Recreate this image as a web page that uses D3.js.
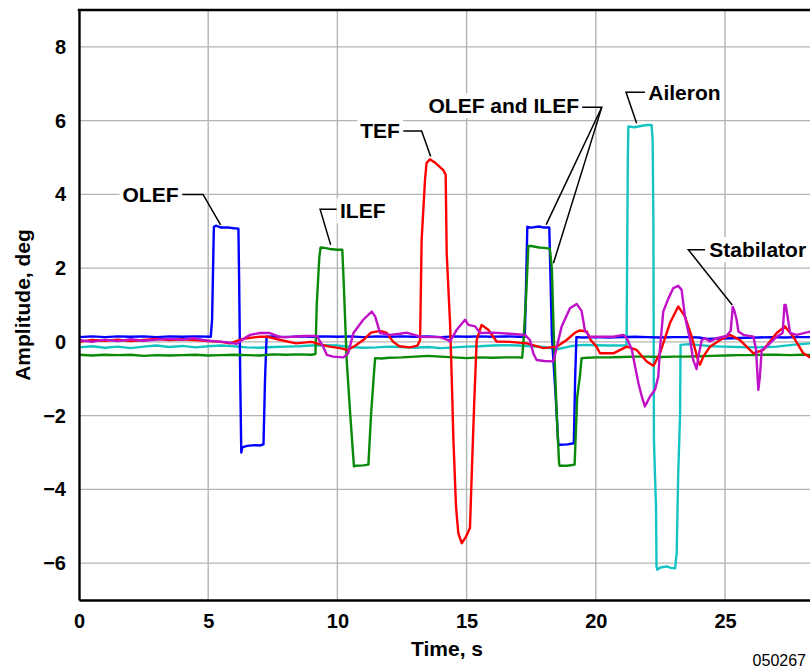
<!DOCTYPE html>
<html>
<head>
<meta charset="utf-8">
<script src="https://cdn.jsdelivr.net/npm/d3@7/dist/d3.min.js"></script>
<style>
  html, body { margin: 0; padding: 0; background: #fff; }
  svg { display: block; }
  text { font-family: "Liberation Sans", Arial, Helvetica, sans-serif; }
</style>
</head>
<body>
<svg id="chart" width="810" height="669"></svg>
<script>
// Surface deflections during the flight test, [time s, amplitude deg]
const olef = [[0,0.13],[0.5,0.15],[1,0.13],[1.5,0.15],[2,0.14],[2.5,0.15],[3,0.13],[3.5,0.15],[4,0.14],[4.5,0.15],[5.1,0.14],[5.15,0.6],[5.22,3.12],[5.3,3.15],[5.5,3.1],[5.8,3.1],[6.0,3.08],[6.17,3.07],[6.2,1.5],[6.24,-1.0],[6.28,-3.0],[6.32,-2.86],[6.5,-2.82],[6.8,-2.8],[7.0,-2.81],[7.14,-2.78],[7.2,-1.0],[7.26,0.14],[7.5,0.15],[8,0.13],[8.5,0.15],[9,0.14],[9.5,0.15],[10,0.14],[10.5,0.15],[11,0.13],[11.5,0.15],[12,0.14],[12.5,0.15],[13,0.14],[13.5,0.15],[14,0.13],[14.5,0.15],[15,0.14],[15.5,0.15],[16,0.14],[16.5,0.15],[17,0.14],[17.25,0.14],[17.3,1.5],[17.35,3.12],[17.5,3.1],[17.8,3.13],[18.0,3.1],[18.2,3.1],[18.3,0.15],[18.45,-1.5],[18.55,-2.8],[18.6,-2.79],[18.9,-2.78],[19.15,-2.75],[19.2,-1.0],[19.25,0.13],[19.5,0.12],[20,0.13],[20.5,0.12],[21,0.13],[21.5,0.14],[22,0.13],[22.5,0.12],[23,0.13],[23.5,0.13],[24,0.12],[24.3,0.08],[24.8,0.09],[25.3,0.1],[25.8,0.11],[26.3,0.12],[26.8,0.13],[27.3,0.12],[27.8,0.13],[28.3,0.13],[28.8,0.12]];

const ilef = [[0,-0.35],[0.5,-0.37],[1,-0.35],[1.5,-0.36],[2,-0.35],[2.5,-0.38],[3,-0.36],[3.5,-0.37],[4,-0.36],[4.5,-0.35],[5,-0.37],[5.5,-0.36],[6,-0.35],[6.5,-0.36],[7,-0.37],[7.5,-0.34],[8,-0.35],[8.5,-0.34],[9,-0.35],[9.15,-0.33],[9.2,1.0],[9.3,2.3],[9.35,2.56],[9.5,2.55],[9.7,2.52],[10,2.5],[10.19,2.5],[10.25,1.5],[10.36,-0.5],[10.5,-2.0],[10.64,-3.38],[10.7,-3.36],[11,-3.35],[11.2,-3.33],[11.3,-2.0],[11.4,-1.0],[11.46,-0.44],[11.7,-0.45],[12,-0.43],[12.5,-0.42],[13,-0.4],[13.5,-0.38],[14,-0.4],[14.5,-0.42],[15,-0.44],[15.5,-0.42],[16,-0.43],[16.5,-0.42],[17,-0.42],[17.15,-0.43],[17.2,0.0],[17.3,1.2],[17.39,2.6],[17.5,2.6],[17.8,2.56],[18.0,2.55],[18.22,2.53],[18.3,2.0],[18.38,0.0],[18.49,-2.0],[18.58,-3.3],[18.6,-3.36],[18.9,-3.36],[19.18,-3.33],[19.28,-1.5],[19.39,-0.9],[19.45,-0.44],[19.7,-0.43],[20,-0.42],[20.5,-0.42],[21,-0.41],[21.5,-0.4],[22,-0.4],[22.5,-0.41],[23,-0.4],[23.5,-0.4],[24,-0.39],[24.5,-0.38],[25,-0.37],[25.5,-0.36],[26,-0.36],[26.5,-0.35],[27,-0.35],[27.5,-0.36],[28,-0.35],[28.8,-0.36]];

const tef = [[0,0.0],[0.5,0.05],[1,0.03],[1.5,0.06],[2,0.02],[2.5,0.05],[3,0.08],[3.5,0.05],[4,0.07],[4.5,0.05],[5,0.02],[5.5,0.0],[5.84,-0.04],[6.2,0.05],[6.5,0.1],[7,0.14],[7.3,0.14],[7.8,0.05],[8.4,-0.04],[9.0,0.0],[9.4,-0.08],[9.7,-0.13],[10.1,-0.17],[10.4,-0.22],[10.7,-0.1],[11.0,0.05],[11.3,0.25],[11.65,0.3],[11.9,0.25],[12.16,0.0],[12.4,-0.12],[12.8,-0.15],[13.1,-0.1],[13.2,0.05],[13.26,2.77],[13.39,4.39],[13.45,4.85],[13.58,4.95],[13.8,4.85],[14.1,4.66],[14.19,4.53],[14.23,2.4],[14.36,0.5],[14.42,-0.85],[14.49,-2.66],[14.59,-4.47],[14.68,-5.19],[14.81,-5.46],[14.98,-5.28],[15.13,-5.05],[15.2,-3.56],[15.29,-1.75],[15.39,0.05],[15.58,0.46],[15.84,0.33],[16.16,0.01],[16.68,0.0],[17.33,-0.04],[17.97,-0.17],[18.49,-0.13],[18.87,0.05],[19.2,0.25],[19.39,0.31],[19.65,0.28],[19.8,0.05],[20.03,-0.13],[20.16,-0.31],[20.68,-0.31],[21.2,-0.13],[21.58,-0.22],[21.97,-0.53],[22.23,-0.65],[22.48,-0.31],[22.87,0.51],[23.19,0.96],[23.45,0.69],[23.71,0.14],[23.97,-0.53],[24.03,-0.62],[24.16,-0.4],[24.42,-0.13],[24.81,0.05],[25.19,0.19],[25.58,0.05],[26.1,-0.31],[26.48,-0.22],[27.0,0.24],[27.32,0.42],[27.64,0.14],[28.03,-0.31],[28.3,-0.42],[28.8,-0.45]];

const aileron = [[0,-0.15],[0.5,-0.12],[1,-0.16],[1.5,-0.13],[2,-0.17],[2.5,-0.13],[3,-0.1],[3.5,-0.14],[4,-0.11],[4.5,-0.15],[5,-0.12],[5.5,-0.1],[6,-0.12],[6.5,-0.15],[7,-0.16],[7.5,-0.14],[8,-0.13],[8.5,-0.12],[9,-0.1],[9.5,-0.09],[10,-0.1],[10.5,-0.14],[11,-0.16],[11.5,-0.15],[12,-0.13],[12.5,-0.14],[13,-0.16],[13.5,-0.14],[14,-0.17],[14.5,-0.15],[15,-0.13],[15.5,-0.12],[16,-0.1],[16.5,-0.09],[17,-0.1],[17.5,-0.12],[18,-0.14],[18.5,-0.2],[19,-0.12],[19.5,-0.08],[20,-0.09],[20.5,-0.1],[21.07,-0.1],[21.19,-0.1],[21.24,5.0],[21.26,5.84],[21.5,5.82],[21.8,5.86],[22.0,5.88],[22.16,5.88],[22.2,5.48],[22.23,3.13],[22.25,-2.66],[22.29,-3.61],[22.33,-4.47],[22.35,-6.09],[22.38,-6.18],[22.5,-6.12],[22.74,-6.09],[22.9,-6.13],[23.07,-6.14],[23.13,-5.73],[23.19,-3.56],[23.26,-2.0],[23.28,-0.08],[23.6,-0.06],[23.9,-0.08],[24.5,-0.12],[24.94,-0.13],[25.5,-0.14],[26.23,-0.15],[27.0,-0.13],[27.6,-0.08],[28.29,-0.04],[28.8,-0.05]];

const stabilator = [[0,0.05],[0.5,0.0],[1,0.06],[1.5,0.02],[2,0.07],[2.5,0.03],[3,0.06],[3.5,0.08],[4,0.06],[4.4,0.1],[4.8,0.05],[5.2,0.02],[5.6,0.0],[6.1,-0.05],[6.4,0.1],[6.62,0.19],[7.0,0.24],[7.39,0.24],[7.78,0.13],[8.29,0.14],[8.7,0.16],[9.2,0.16],[9.45,-0.13],[9.59,-0.35],[9.84,-0.4],[10.23,-0.42],[10.42,-0.31],[10.62,0.24],[11.0,0.6],[11.33,0.82],[11.46,0.69],[11.65,0.24],[12.04,0.19],[12.42,0.22],[12.68,0.25],[13.2,0.14],[13.97,0.13],[14.29,0.05],[14.36,0.01],[14.62,0.33],[14.94,0.6],[15.07,0.46],[15.33,0.42],[15.52,0.24],[16.03,0.25],[16.68,0.22],[17.26,0.19],[17.45,0.05],[17.58,-0.31],[17.71,-0.49],[18.0,-0.52],[18.36,-0.53],[18.49,-0.13],[18.68,0.42],[19.0,0.91],[19.26,1.03],[19.45,0.84],[19.58,0.3],[19.78,0.14],[20.16,0.14],[20.68,0.14],[21.07,0.19],[21.2,0.1],[21.39,-0.2],[21.52,-0.67],[21.65,-1.12],[21.78,-1.48],[21.9,-1.75],[22.1,-1.48],[22.29,-1.3],[22.42,-0.94],[22.48,-0.22],[22.61,0.82],[22.81,1.18],[23.0,1.46],[23.19,1.52],[23.32,1.41],[23.45,0.69],[23.65,0.05],[23.77,-0.49],[23.9,-0.74],[23.97,-0.4],[24.1,0.05],[24.23,0.1],[24.42,0.01],[24.68,0.1],[25.06,0.16],[25.22,0.3],[25.3,0.95],[25.36,0.85],[25.45,0.6],[25.52,0.28],[25.71,0.19],[26.1,0.14],[26.2,-0.2],[26.29,-1.3],[26.35,-0.94],[26.42,-0.22],[26.61,-0.13],[27.0,0.14],[27.23,0.24],[27.3,1.0],[27.35,1.0],[27.42,0.69],[27.52,0.24],[27.77,0.19],[28.29,0.28],[28.8,0.27]];

// Axis ticks
const xTickValues = [0, 5, 10, 15, 20, 25];
const yTickValues = [-6, -4, -2, 0, 2, 4, 6, 8];
const xGridValues = [5, 10, 15, 20, 25];
const yGridValues = [-6, -4, -2, 0, 2, 4, 6, 8];

// Series drawing order and colours
const seriesList = [
  { name: "Aileron", data: aileron, color: "#14c4c4" },
  { name: "OLEF", data: olef, color: "#0000ff" },
  { name: "ILEF", data: ilef, color: "#098a09" },
  { name: "TEF", data: tef, color: "#ff0000" },
  { name: "Stabilator", data: stabilator, color: "#c010c8" }
];

// Callouts: label text, anchor point, which side the text sits on, leader lines (data units)
const callouts = [
  { text: "OLEF", at: [3.85, 4.0], anchor: "end", leaders: [[[4.0, 4.0], [4.8, 4.0], [5.48, 3.17]]] },
  { text: "ILEF", at: [10.1, 3.55], anchor: "start", leaders: [[[9.97, 3.6], [9.33, 3.6], [9.74, 2.63]]] },
  { text: "TEF", at: [12.42, 5.72], anchor: "end", leaders: [[[12.55, 5.72], [13.26, 5.72], [13.61, 5.03]]] },
  { text: "OLEF and ILEF", at: [19.35, 6.4], anchor: "end",
    leaders: [[[19.45, 6.36], [20.23, 6.36], [18.08, 3.18]], [[20.23, 6.36], [18.36, 2.13]]] },
  { text: "Aileron", at: [22.03, 6.75], anchor: "start", leaders: [[[21.9, 6.77], [21.17, 6.77], [21.58, 5.93]]] },
  { text: "Stabilator", at: [24.39, 2.5], anchor: "start", leaders: [[[24.23, 2.5], [23.58, 2.5], [25.28, 1.0]]] }
];

const svg = d3.select("#chart");
const W = 810, H = 669;
const plot = { left: 79, top: 10, bottom: 600 };

const x = d3.scaleLinear().domain([0, 30]).range([plot.left, plot.left + 30 * 25.84]);
const y = d3.scaleLinear().domain([-7, 9]).range([plot.bottom, plot.top]);

svg.append("rect").attr("width", W).attr("height", H).attr("fill", "#fff");

svg.append("defs").append("clipPath").attr("id", "plotClip")
  .append("rect")
  .attr("x", x(0)).attr("y", y(9))
  .attr("width", x(30) - x(0)).attr("height", y(-7) - y(9));

// Grid
const grid = svg.append("g").attr("stroke", "#b4b4b4").attr("stroke-width", 1.4);
grid.selectAll("line.gx").data(xGridValues).join("line")
  .attr("x1", d => x(d)).attr("x2", d => x(d))
  .attr("y1", y(9)).attr("y2", y(-7));
grid.selectAll("line.gy").data(yGridValues).join("line")
  .attr("x1", x(0)).attr("x2", x(30))
  .attr("y1", d => y(d)).attr("y2", d => y(d));

// Data lines
const line = d3.line().x(d => x(d[0])).y(d => y(d[1]));
const lines = svg.append("g").attr("clip-path", "url(#plotClip)");
lines.selectAll("path").data(seriesList).join("path")
  .attr("d", d => line(d.data))
  .attr("fill", "none")
  .attr("stroke", d => d.color)
  .attr("stroke-width", 2.4)
  .attr("stroke-linejoin", "round");

// Callouts
const callG = svg.append("g");
callouts.forEach(c => {
  c.leaders.forEach(pts => {
    callG.append("path")
      .attr("d", d3.line().x(p => x(p[0])).y(p => y(p[1]))(pts))
      .attr("fill", "none").attr("stroke", "#000").attr("stroke-width", 1.5);
  });
  const g = callG.append("g");
  const t = g.append("text")
    .attr("x", x(c.at[0])).attr("y", y(c.at[1]))
    .attr("dy", "0.35em")
    .attr("text-anchor", c.anchor)
    .attr("font-size", 21).attr("font-weight", "bold")
    .text(c.text);
  const bb = t.node().getBBox();
  g.insert("rect", "text")
    .attr("x", bb.x - 3).attr("y", bb.y - 1)
    .attr("width", bb.width + 6).attr("height", bb.height + 2)
    .attr("fill", "#fff");
});

// Axes
const yAxis = d3.axisLeft(y).tickValues(yTickValues).tickSize(0).tickPadding(13).tickFormat(d3.format("d"));
const xAxis = d3.axisBottom(x).tickValues(xTickValues).tickSize(0).tickPadding(14).tickFormat(d3.format("d"));

const gy = svg.append("g").attr("transform", `translate(${x(0)},0)`).call(yAxis);
const gx = svg.append("g").attr("transform", `translate(0,${y(-7)})`).call(xAxis);
[gx, gy].forEach(g => {
  g.select(".domain").attr("stroke", "#000").attr("stroke-width", 2.4);
  g.selectAll("text").attr("font-size", 20).attr("font-weight", "bold")
    .attr("fill", "#000").attr("font-family", "'Liberation Sans', Arial, sans-serif");
});

// Top frame line
svg.append("line")
  .attr("x1", x(0) - 1.2).attr("x2", x(30))
  .attr("y1", y(9)).attr("y2", y(9))
  .attr("stroke", "#000").attr("stroke-width", 2.4);

// Axis titles
svg.append("text")
  .attr("transform", `translate(30,${(y(9) + y(-7)) / 2}) rotate(-90)`)
  .attr("text-anchor", "middle")
  .attr("font-size", 21).attr("font-weight", "bold")
  .text("Amplitude, deg");

svg.append("text")
  .attr("x", 447).attr("y", 656)
  .attr("text-anchor", "middle")
  .attr("font-size", 21).attr("font-weight", "bold")
  .text("Time, s");

// Figure number
svg.append("text")
  .attr("x", 806).attr("y", 666)
  .attr("text-anchor", "end")
  .attr("font-size", 16)
  .text("050267");
</script>
</body>
</html>
